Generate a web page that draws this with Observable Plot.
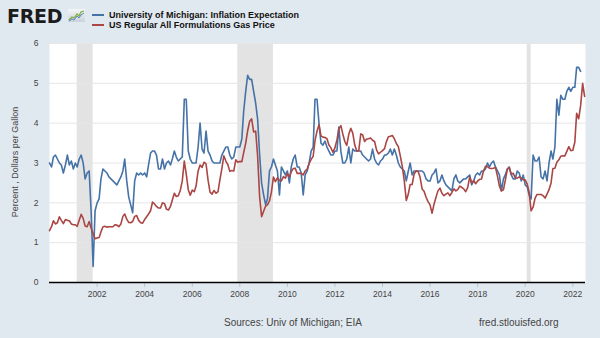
<!DOCTYPE html>
<html>
<head>
<meta charset="utf-8">
<script src="https://cdn.jsdelivr.net/npm/d3@7"></script>
<script src="https://cdn.jsdelivr.net/npm/@observablehq/plot@0.6"></script>
<style>
  html, body { margin: 0; padding: 0; background: #e1e9f0; }
  #wrap { position: relative; width: 600px; height: 338px; background: #e1e9f0; overflow: hidden; font-family: "Liberation Sans", Arial, sans-serif; }
  #logo { position: absolute; left: 7px; top: 5px; font-family: "DejaVu Sans", sans-serif; font-weight: bold; font-size: 19px; line-height: 22px; color: #1b1b1b; letter-spacing: -0.3px; }
  #icon { position: absolute; left: 68px; top: 9px; }
  #legend { position: absolute; left: 92px; top: 10px; font-size: 9px; font-weight: bold; line-height: 10px; color: #111; }
  #legend .row { display: flex; align-items: center; height: 10px; white-space: nowrap; }
  #legend .sw { display: inline-block; width: 12px; height: 2px; margin-right: 5px; }
  #chart { position: absolute; left: 0; top: 0; }
  #ylabel { position: absolute; left: 15px; top: 162px; transform: translate(-50%, -50%) rotate(-90deg); font-size: 9px; color: #444; white-space: nowrap; }
  #src { position: absolute; left: 224px; top: 317px; font-size: 10px; color: #444; white-space: nowrap; }
  #url { position: absolute; left: 479px; top: 317px; font-size: 10px; color: #444; white-space: nowrap; }
  #chart svg [aria-label^="x-axis"] line, #chart svg [aria-label="x-axis tick"] path { stroke: #b8c4d6; }
</style>
</head>
<body>
<div id="wrap">
  <div id="logo">FRED</div>
  <svg id="icon" width="17" height="13" viewBox="0 0 17 13">
    <defs><linearGradient id="g" x1="0" y1="0" x2="0" y2="1"><stop offset="0" stop-color="#f4f6f8"/><stop offset="1" stop-color="#c9d2dc"/></linearGradient></defs>
    <rect x="0" y="0" width="17" height="13" fill="url(#g)"/>
    <polyline points="1,11 4,8 6,9 9,5 11,7 13,3 16,2" fill="none" stroke="#7cae3c" stroke-width="1.2"/>
    <polyline points="1,12 4,10 6,11 9,7 11,9 13,6 16,4" fill="none" stroke="#5b86c0" stroke-width="1"/>
  </svg>
  <div id="legend"></div>
  <div id="chart"></div>
  <div id="ylabel"></div>
  <div id="src">Sources: Univ of Michigan; EIA</div>
  <div id="url">fred.stlouisfed.org</div>
</div>
<script>
// ---- Data (monthly, starting January 2000) ----
const seriesNames = ["University of Michigan: Inflation Expectation", "US Regular All Formulations Gas Price"];
const seriesColors = ["#4572a7", "#aa4643"];
const startYear = 2000;

// University of Michigan: Inflation Expectation (percent), Jan 2000 - May 2022
const michValues = [
  3.0, 2.9, 3.15, 3.2, 3.1, 3.0, 2.95, 2.75, 2.95, 3.2, 2.95, 3.05,
  2.85, 3.0, 2.9, 3.1, 3.2, 3.0, 2.6, 2.75, 2.8, 1.8, 0.4, 1.8,
  2.0, 2.1, 2.6, 2.85, 2.8, 2.75, 2.65, 2.6, 2.55, 2.5, 2.45, 2.55,
  2.65, 2.8, 3.1, 2.55, 2.15, 1.95, 1.75, 2.55, 2.75, 2.7, 2.75, 2.7,
  2.75, 2.65, 2.95, 3.25, 3.3, 3.3, 3.2, 2.85, 2.85, 3.1, 2.85, 3.0,
  3.05, 2.95, 3.1, 3.3, 3.15, 3.05, 3.1, 3.15, 4.6, 4.6, 3.3, 3.1,
  3.0, 3.0, 3.0, 3.4, 4.0, 3.35, 3.25, 3.8, 3.3, 3.2, 3.05, 3.0,
  3.0, 3.0, 3.0, 3.2, 3.3, 3.4, 3.4, 3.2, 3.1, 3.15, 3.4, 3.4,
  3.4, 3.6, 4.3, 4.8, 5.2, 5.1, 5.1, 4.8, 4.5, 4.1, 3.2, 2.5,
  2.2, 1.95, 2.1, 2.8, 2.9, 3.1, 2.95, 2.8, 2.2, 2.9, 2.8, 2.7,
  2.8, 2.5, 2.9, 3.1, 3.2, 2.9, 2.9, 2.75, 2.2, 2.7, 2.8, 3.0,
  3.3, 3.4, 4.6, 4.6, 4.0, 3.5, 3.45, 3.55, 3.4, 3.3, 3.2, 3.2,
  3.3, 3.3, 3.9, 3.3, 3.0, 3.0, 3.1, 3.4, 3.0, 3.35, 3.3, 3.3,
  3.3, 3.3, 3.2, 3.15, 3.1, 3.05, 3.1, 3.35, 3.1, 3.0, 2.95, 3.05,
  3.1, 3.2, 3.2, 3.25, 3.35, 3.2, 3.35, 3.2, 3.0, 2.9, 2.85, 2.8,
  2.55, 2.8, 3.0, 2.7, 2.8, 2.8, 2.8, 2.8, 2.8, 2.75, 2.6, 2.55,
  2.55, 2.7, 2.75, 2.85, 2.5, 2.55, 2.7, 2.55, 2.45, 2.4, 2.35, 2.3,
  2.6, 2.7, 2.55, 2.5, 2.55, 2.6, 2.6, 2.65, 2.7, 2.45, 2.55, 2.7,
  2.75, 2.7, 2.8, 2.8, 2.85, 3.0, 2.9, 3.0, 3.05, 2.9, 2.8, 2.7,
  2.3, 2.6, 2.7, 2.85, 2.9, 2.7, 2.6, 2.6, 2.8, 2.75, 2.55, 2.7,
  2.45, 2.4, 2.2, 2.1, 3.2, 3.05, 3.05, 3.15, 2.65, 2.6, 2.8, 2.55,
  3.0, 3.3, 3.1, 3.4, 4.6, 4.2, 4.7, 4.6, 4.6, 4.8, 4.9, 4.8,
  4.9, 4.9, 5.4, 5.4, 5.3
];

// US Regular All Formulations Gas Price (dollars per gallon), Jan 2000 - Jul 2022
const gasValues = [
  1.30, 1.40, 1.55, 1.47, 1.50, 1.65, 1.56, 1.48, 1.58, 1.56, 1.55, 1.47,
  1.45, 1.45, 1.41, 1.56, 1.71, 1.61, 1.42, 1.40, 1.53, 1.36, 1.23, 1.10,
  1.12, 1.13, 1.27, 1.40, 1.41, 1.39, 1.40, 1.40, 1.40, 1.45, 1.44, 1.40,
  1.47, 1.66, 1.72, 1.59, 1.51, 1.50, 1.53, 1.66, 1.68, 1.56, 1.50, 1.49,
  1.58, 1.65, 1.72, 1.80, 2.02, 1.97, 1.91, 1.87, 1.87, 2.00, 1.98, 1.84,
  1.82, 1.91, 2.07, 2.24, 2.16, 2.18, 2.31, 2.55, 3.05, 2.72, 2.33, 2.19,
  2.32, 2.28, 2.42, 2.80, 2.95, 2.89, 3.02, 2.98, 2.57, 2.27, 2.22, 2.31,
  2.24, 2.28, 2.57, 2.86, 3.18, 3.05, 2.96, 2.79, 2.81, 2.80, 3.08, 3.02,
  3.04, 3.03, 3.26, 3.50, 3.81, 4.05, 4.11, 3.78, 3.80, 3.17, 2.15, 1.65,
  1.79, 1.92, 1.95, 2.05, 2.27, 2.65, 2.53, 2.63, 2.56, 2.55, 2.66, 2.62,
  2.73, 2.65, 2.78, 2.86, 2.87, 2.74, 2.74, 2.74, 2.70, 2.80, 2.85, 2.99,
  3.09, 3.17, 3.56, 3.80, 3.96, 3.68, 3.65, 3.64, 3.61, 3.45, 3.38, 3.27,
  3.38, 3.58, 3.85, 3.94, 3.73, 3.54, 3.44, 3.72, 3.87, 3.75, 3.45, 3.30,
  3.31, 3.73, 3.71, 3.54, 3.60, 3.61, 3.63, 3.57, 3.54, 3.33, 3.23, 3.27,
  3.31, 3.36, 3.53, 3.66, 3.67, 3.69, 3.61, 3.49, 3.41, 3.18, 2.91, 2.55,
  2.06, 2.22, 2.46, 2.46, 2.72, 2.80, 2.79, 2.64, 2.35, 2.29, 2.14, 2.03,
  1.95, 1.74, 1.96, 2.14, 2.30, 2.37, 2.24, 2.18, 2.22, 2.25, 2.18, 2.26,
  2.35, 2.30, 2.33, 2.42, 2.39, 2.35, 2.28, 2.38, 2.65, 2.50, 2.56, 2.48,
  2.55, 2.59, 2.60, 2.80, 2.92, 2.91, 2.87, 2.86, 2.87, 2.89, 2.67, 2.42,
  2.30, 2.33, 2.56, 2.84, 2.89, 2.72, 2.74, 2.63, 2.62, 2.65, 2.62, 2.58,
  2.58, 2.47, 2.27, 1.80, 1.89, 2.12, 2.21, 2.21, 2.21, 2.18, 2.12, 2.22,
  2.33, 2.50, 2.86, 2.87, 3.02, 3.08, 3.17, 3.18, 3.18, 3.29, 3.41, 3.31,
  3.32, 3.52, 4.25, 4.11, 4.44, 5.00, 4.67
];

// Recessions (NBER), shaded
const recessionStarts = ["2001-03-01", "2007-12-01", "2020-02-01"];
const recessionEnds   = ["2001-11-01", "2009-06-01", "2020-04-01"];

// Axes
const xDomain = ["2000-01-01", "2022-07-15"];
const xTickYears = [2002, 2004, 2006, 2008, 2010, 2012, 2014, 2016, 2018, 2020, 2022];
const yTicks = [0, 1, 2, 3, 4, 5, 6];
const yGridValues = [1, 2, 3, 4, 5, 6];
const yLabel = "Percent , Dollars per Gallon";

// ---- Build tables ----
const monthDate = i => new Date(Date.UTC(startYear + Math.floor(i / 12), i % 12, 1));
const mich = michValues.map((v, i) => ({date: monthDate(i), value: v}));
const gas = gasValues.map((v, i) => ({date: monthDate(i), value: v}));
const recessions = recessionStarts.map((s, i) => ({start: new Date(s), end: new Date(recessionEnds[i])}));

// Legend and axis title
const legend = document.getElementById("legend");
seriesNames.forEach((n, i) => {
  const row = document.createElement("div");
  row.className = "row";
  row.innerHTML = `<span class="sw" style="background:${seriesColors[i]}"></span><span>${n}</span>`;
  legend.appendChild(row);
});
document.getElementById("ylabel").textContent = yLabel;

const chart = Plot.plot({
  width: 600,
  height: 310,
  marginTop: 43,
  marginBottom: 28,
  marginLeft: 49,
  marginRight: 15,
  style: {background: "transparent", fontFamily: "'Liberation Sans', Arial, sans-serif", fontSize: "8.5px", color: "#444", overflow: "visible"},
  x: {
    type: "utc",
    domain: xDomain.map(d => new Date(d)),
    ticks: xTickYears.map(y => new Date(Date.UTC(y, 0, 1))),
    tickFormat: d3.utcFormat("%Y"),
    tickSize: 5,
    tickPadding: 3,
    label: null
  },
  y: {
    domain: [0, 6],
    ticks: yTicks,
    tickFormat: d3.format("d"),
    tickSize: 0,
    tickPadding: 11,
    label: null
  },
  marks: [
    Plot.frame({fill: "white", stroke: "none"}),
    Plot.rect(recessions, {x1: "start", x2: "end", fill: "#e3e3e3"}),
    Plot.ruleY(yGridValues, {stroke: "#e6e6e6", strokeWidth: 1}),
    Plot.line(mich, {x: "date", y: "value", stroke: seriesColors[0], strokeWidth: 1.6}),
    Plot.line(gas, {x: "date", y: "value", stroke: seriesColors[1], strokeWidth: 1.6}),
    Plot.ruleY([0], {stroke: "#000", strokeWidth: 1.5})
  ]
});
document.getElementById("chart").appendChild(chart);
</script>
</body>
</html>
